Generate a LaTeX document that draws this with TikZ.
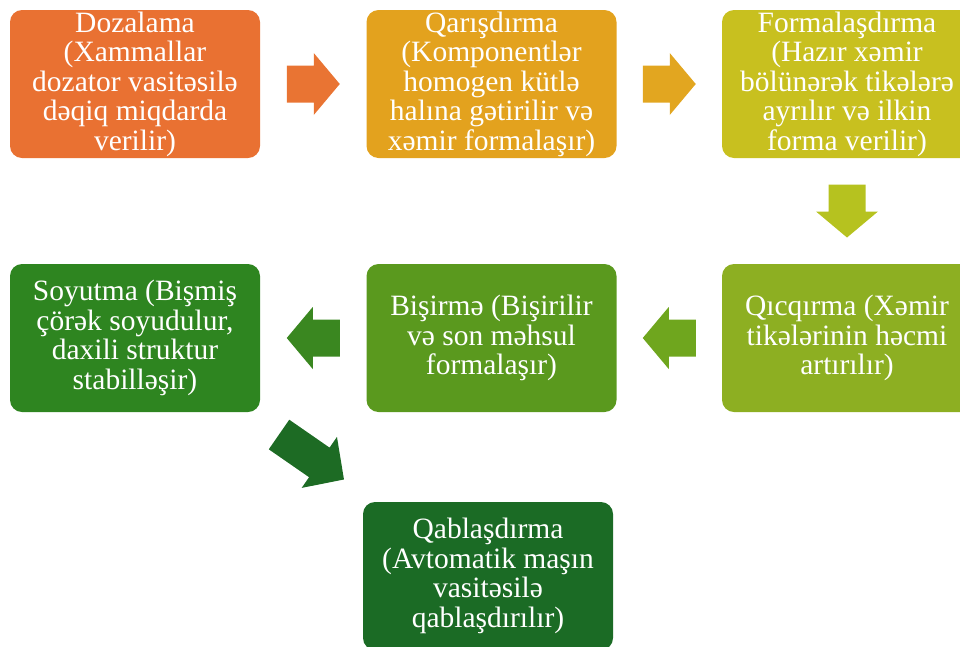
\documentclass[tikz,border=0pt]{standalone}
\usepackage{fontspec}
\setmainfont{Liberation Serif}
\usetikzlibrary{calc}

% stage colours, orange through to dark green
\definecolor{stageA}{HTML}{E97132}
\definecolor{stageB}{HTML}{E3A21E}
\definecolor{stageC}{HTML}{C8C01F}
\definecolor{stageD}{HTML}{8DAF22}
\definecolor{stageE}{HTML}{5A991E}
\definecolor{stageF}{HTML}{2E8520}
\definecolor{stageG}{HTML}{1B6B25}
\definecolor{arrowA}{HTML}{E97433}
\definecolor{arrowB}{HTML}{E2A620}
\definecolor{arrowC}{HTML}{B6C21F}
\definecolor{arrowD}{HTML}{6FA61E}
\definecolor{arrowE}{HTML}{3A8720}
\definecolor{arrowF}{HTML}{1D6B24}

\tikzset{
  stagebox/.style={rounded corners=12pt, minimum width=250pt, minimum height=148pt,
    inner sep=0pt, draw=none},
  stagetext/.style={text=white, align=center, inner sep=0pt,
    font=\fontsize{29.5}{29.5}\selectfont},
  % short block arrow pointing along +x, centred on the origin
  blockarrow/.pic={
    \fill[#1] (-26.5,-18.5) -- (0.5,-18.5) -- (0.5,-31) -- (26.5,0)
      -- (0.5,31) -- (0.5,18.5) -- (-26.5,18.5) -- cycle;
  },
  % longer block arrow for the diagonal step
  longarrow/.pic={
    \fill[#1] (-39.5,-18) -- (9.5,-18) -- (9.5,-31) -- (39.5,0)
      -- (9.5,31) -- (9.5,18) -- (-39.5,18) -- cycle;
  },
}

\begin{document}
\begin{tikzpicture}[x=1pt, y=-1pt]
  \clip (0,0) rectangle (960,646);

  % boxes
  \node[stagebox, fill=stageA] (b1) at (135,84) {};
  \node[stagebox, fill=stageB] (b2) at (491.5,84) {};
  \node[stagebox, fill=stageC] (b3) at (847,84) {};
  \node[stagebox, fill=stageD] (b4) at (847,338) {};
  \node[stagebox, fill=stageE] (b5) at (491.5,338) {};
  \node[stagebox, fill=stageF] (b6) at (135,338) {};
  \node[stagebox, fill=stageG] (b7) at (488,576) {};

  % texts
  \node[stagetext] (t1) at (b1) {Dozalama\\(Xammallar\\dozator vasitəsilə\\dəqiq miqdarda\\verilir)};
  \node[stagetext] (t2) at (b2) {Qarışdırma\\(Komponentlər\\homogen kütlə\\halına gətirilir və\\xəmir formalaşır)};
  \node[stagetext] (t3) at (b3) {Formalaşdırma\\(Hazır xəmir\\bölünərək tikələrə\\ayrılır və ilkin\\forma verilir)};
  \node[stagetext] (t4) at (b4) {Qıcqırma (Xəmir\\tikələrinin həcmi\\artırılır)};
  \node[stagetext] (t5) at (b5) {Bişirmə (Bişirilir\\və son məhsul\\formalaşır)};
  \node[stagetext] (t6) at (b6) {Soyutma (Bişmiş\\çörək soyudulur,\\daxili struktur\\stabilləşir)};
  \node[stagetext] (t7) at (b7) {Qablaşdırma\\(Avtomatik maşın\\vasitəsilə\\qablaşdırılır)};

  % block arrows between stages
  \pic at ($(b1.east)!0.5!(b2.west)$) {blockarrow=arrowA};
  \pic at ($(b2.east)!0.5!(b3.west)$) {blockarrow=arrowB};
  \pic[rotate=-90] at ($(b3.south)!0.5!(b4.north)$) {blockarrow=arrowC};
  \pic[rotate=180] at ($(b4.west)!0.5!(b5.east)$) {blockarrow=arrowD};
  \pic[rotate=180] at ($(b5.west)!0.5!(b6.east)$) {blockarrow=arrowE};
  \pic[rotate=-34.7] at ($(b6.south east)!0.5!(b7.north west)$) {longarrow=arrowF};
\end{tikzpicture}
\end{document}
